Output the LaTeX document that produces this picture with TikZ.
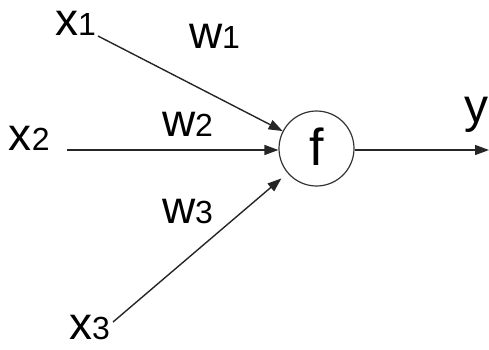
\documentclass[tikz,border=0pt]{standalone}
\usepackage{fontspec}
\setmainfont{Liberation Sans}
\usetikzlibrary{arrows.meta,calc}
\newcommand{\lbl}[2]{{\fontsize{46}{46}\selectfont #1}{\fontsize{32}{32}\selectfont #2}}
\begin{document}
\begin{tikzpicture}[x=1pt,y=-1pt,
  txt/.style={anchor=base west,inner sep=0pt,outer sep=0pt},
  conn/.style={line width=1.4pt,draw=black!85,-{Triangle[length=14pt,width=10pt]}}]
\useasboundingbox (0,0) rectangle (489,349);
\node[draw=black!80,line width=1.2pt,circle,minimum size=75pt,inner sep=0pt] (f) at (316.5,148.5) {};
\node[inner sep=0pt,anchor=base] (ft) at (317,165) {\fontsize{52}{52}\selectfont f};
\node[txt] (x1) at (55,35) {\lbl{x}{1}};
\node[txt] (x2) at (9,150) {\lbl{x}{2}};
\node[txt] (x3) at (69,339) {\lbl{x}{3}};
\node[txt] (w1) at (189,48) {\lbl{w}{1}};
\node[txt] (w2) at (162,136) {\lbl{w}{2}};
\node[txt] (w3) at (162,223) {\lbl{w}{3}};
\node[txt] (y) at (464,122) {\fontsize{48}{48}\selectfont y};
\coordinate (s1) at (98,36);
\coordinate (s2) at (67,150);
\coordinate (s3) at (113,322);
\coordinate (o) at (489,150);
\draw[conn] (s1) -- (f);
\draw[conn] (s2) -- (f.west |- s2);
\draw[conn,shorten >=8pt] (s3) -- (f);
\draw[conn] (f.east |- o) -- (o);
\end{tikzpicture}
\end{document}
